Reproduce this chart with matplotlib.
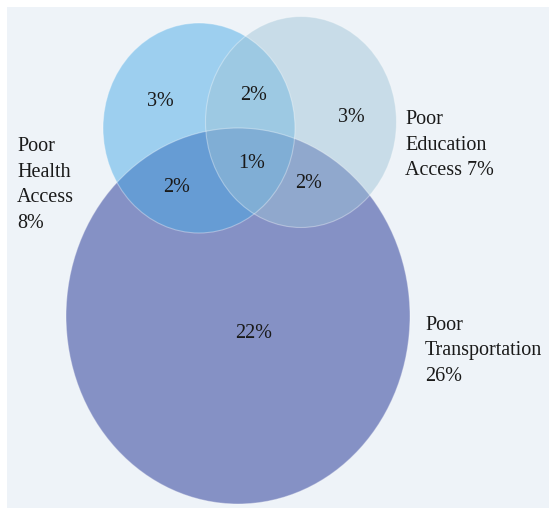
import matplotlib
matplotlib.use("Agg")
import matplotlib.pyplot as plt
from matplotlib.patches import Ellipse, Rectangle

# Data
sets = ["Poor Health Access", "Poor Education Access", "Poor Transportation"]
set_totals = ["8%", "7%", "26%"]
region_names = ["Health only", "Health & Education", "Education only",
                "All three", "Health & Transportation",
                "Education & Transportation", "Transportation only"]
region_values = ["3%", "2%", "3%", "1%", "2%", "2%", "22%"]

W, H = 549, 508
fig = plt.figure(figsize=(W / 100, H / 100), dpi=100)
ax = fig.add_axes([0, 0, 1, 1])
ax.set_xlim(0, W)
ax.set_ylim(H, 0)
ax.axis("off")
fig.patch.set_facecolor("white")

ax.add_patch(Rectangle((7, 7), W - 7, H - 7, facecolor="#EEF3F8", edgecolor="none", zorder=0))

# circles: (cx, cy, w, h, color, alpha)
circles = {
    "Poor Transportation": (238, 316, 344, 376, "#8591C5", 1.0),
    "Poor Health Access": (199, 128, 192, 210, "#46A9E6", 0.48),
    "Poor Education Access": (301, 122, 191, 211, "#9EC3D7", 0.47),
}
for name in ["Poor Transportation", "Poor Health Access", "Poor Education Access"]:
    cx, cy, w, h, c, a = circles[name]
    ax.add_patch(Ellipse((cx, cy), w, h, facecolor=c, alpha=a, edgecolor="none", zorder=1))
    ax.add_patch(Ellipse((cx, cy), w, h, facecolor="none", edgecolor="white", alpha=0.35, lw=0.8, zorder=2))

font = dict(family="Liberation Serif", color="#1a1a1a", fontsize=14.5)

region_pos = [(160, 102), (254, 96), (351, 118), (252, 163), (177, 187), (309, 183), (254, 333)]
for (x, y), v in zip(region_pos, region_values):
    ax.text(x, y, v, ha="center", va="center", zorder=3, **font)

labels = [
    (17, 185, "Poor\nHealth\nAccess\n" + set_totals[0]),
    (405, 145, "Poor\nEducation\nAccess " + set_totals[1]),
    (425, 351, "Poor\nTransportation\n" + set_totals[2]),
]
for x, y, t in labels:
    ax.text(x, y, t, ha="left", va="center", linespacing=1.49, zorder=3, **font)

fig.savefig("out.png", dpi=100, facecolor="white")
